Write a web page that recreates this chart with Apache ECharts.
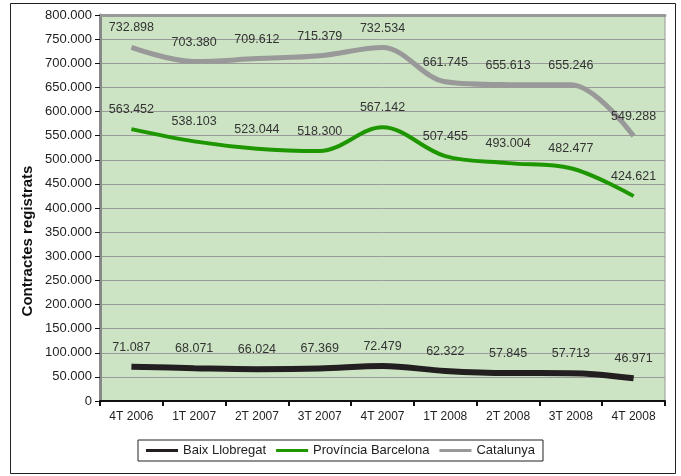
<!DOCTYPE html>
<html>
<head>
<meta charset="utf-8">
<script src="https://cdn.jsdelivr.net/npm/echarts@6/dist/echarts.min.js"></script>
<style>
  html, body { margin: 0; padding: 0; background: #fff; }
  #chart { width: 681px; height: 476px; }
</style>
</head>
<body>
<div id="chart"></div>
<script>
// dades del gràfic
const quarters = ['4T 2006', '1T 2007', '2T 2007', '3T 2007', '4T 2007', '1T 2008', '2T 2008', '3T 2008', '4T 2008'];
const baixLlobregat = [71087, 68071, 66024, 67369, 72479, 62322, 57845, 57713, 46971];
const provinciaBarcelona = [563452, 538103, 523044, 518300, 567142, 507455, 493004, 482477, 424621];
const catalunya = [732898, 703380, 709612, 715379, 732534, 661745, 655613, 655246, 549288];

// format amb punt de milers
const fmt = v => v === 0 ? '0' : String(v).replace(/\B(?=(\d{3})+(?!\d))/g, '.');

const chart = echarts.init(document.getElementById('chart'));

const labelStyle = {
  show: true,
  position: 'top',
  distance: 13,
  color: '#333',
  fontFamily: 'Liberation Sans, Arial, sans-serif',
  fontSize: 12.5,
  formatter: p => fmt(p.value)
};

const makeSeries = (name, data, color, width) => ({
  name,
  type: 'line',
  data,
  smooth: 0.35,
  symbol: 'circle',
  symbolSize: 0,
  showSymbol: true,
  lineStyle: { color, width },
  itemStyle: { color },
  label: labelStyle,
  z: 3
});

chart.setOption({
  animation: false,
  backgroundColor: '#fff',
  textStyle: { fontFamily: 'Liberation Sans, Arial, sans-serif' },
  graphic: [{
    type: 'rect',
    shape: { x: 10.5, y: 3.5, width: 665, height: 470 },
    style: { fill: 'none', stroke: '#222', lineWidth: 1 },
    z: -1
  }, {
    type: 'text',
    x: 28,
    y: 241,
    rotation: Math.PI / 2,
    style: {
      text: 'Contractes registrats',
      fill: '#111',
      font: 'bold 15px Liberation Sans, Arial, sans-serif',
      align: 'center',
      verticalAlign: 'middle'
    }
  }],
  grid: {
    left: 100, right: 16, top: 15, bottom: 75,
    show: true,
    backgroundColor: '#cce4c3',
    borderColor: '#999',
    borderWidth: 1
  },
  legend: {
    bottom: 15,
    left: 'center',
    itemWidth: 32,
    itemHeight: 3,
    itemGap: 10,
    icon: 'rect',
    padding: [4, 8],
    borderColor: '#222',
    borderWidth: 1,
    textStyle: { fontSize: 13, color: '#222' },
    data: ['Baix Llobregat', 'Província Barcelona', 'Catalunya']
  },
  xAxis: [{
    type: 'category',
    data: quarters,
    boundaryGap: true,
    axisLine: { lineStyle: { color: '#111', width: 2 } },
    axisTick: { show: true, length: 5, lineStyle: { color: '#111', width: 2 } },
    axisLabel: { color: '#222', fontSize: 12, margin: 10 },
    splitLine: { show: false }
  }, {
    type: 'category',
    position: 'top',
    data: quarters,
    axisLine: { lineStyle: { color: '#999', width: 3 } },
    axisTick: { show: false },
    axisLabel: { show: false },
    splitLine: { show: false }
  }],
  yAxis: {
    type: 'value',
    min: 0,
    max: 800000,
    interval: 50000,
    axisLine: { show: true, lineStyle: { color: '#888', width: 3 } },
    axisTick: { show: true, length: 5, lineStyle: { color: '#111', width: 1 } },
    axisLabel: { color: '#222', fontSize: 13, margin: 8, formatter: fmt },
    splitLine: { show: true, lineStyle: { color: '#9a9a9a', width: 1 } }
  },
  series: [
    makeSeries('Baix Llobregat', baixLlobregat, '#231f20', 6),
    makeSeries('Província Barcelona', provinciaBarcelona, '#1e9600', 4),
    makeSeries('Catalunya', catalunya, '#999999', 5)
  ]
});
</script>
</body>
</html>
